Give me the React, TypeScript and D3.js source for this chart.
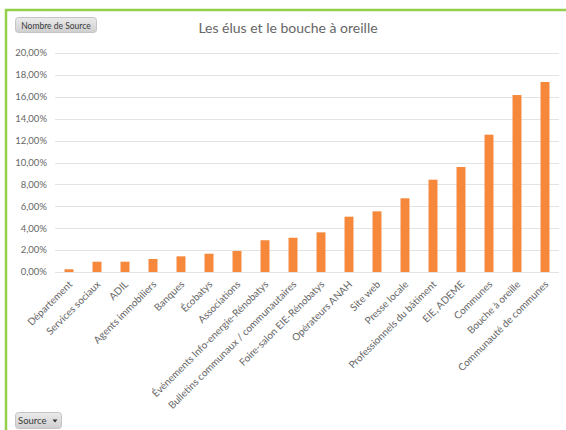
import * as d3 from "d3";
import React from "react";

const categories = [
  "Département",
  "Services sociaux",
  "ADIL",
  "Agents immobiliers",
  "Banques",
  "Écobatys",
  "Associations",
  "Événements Info-energie-Rénobatys",
  "Bulletins communaux / communautaires",
  "Foire-salon EIE-Rénobatys",
  "Opérateurs ANAH",
  "Site web",
  "Presse locale",
  "Professionnels du bâtiment",
  "EIE, ADEME",
  "Communes",
  "Bouche à oreille",
  "Communauté de communes",
];

const shares = [
  0.0025, 0.0094, 0.0094, 0.0119, 0.0143, 0.0167, 0.0192, 0.029, 0.0313,
  0.0362, 0.0505, 0.0554, 0.0673, 0.0843, 0.0959, 0.1254, 0.1616, 0.1735,
];

const yTicks = [0, 0.02, 0.04, 0.06, 0.08, 0.1, 0.12, 0.14, 0.16, 0.18, 0.2];

const chartTitle = "Les élus et le bouche à oreille";

export default function App() {
  const ref = React.useRef<SVGSVGElement>(null);

  React.useEffect(() => {
    if (!ref.current) return;
    const svg = d3.select(ref.current);
    svg.selectAll("*").remove();

    const font = "Lato, 'Open Sans', sans-serif";
    const textColor = "#666666";

    // 外枠（緑の線）
    svg
      .append("rect")
      .attr("x", 0)
      .attr("y", 0)
      .attr("width", 566)
      .attr("height", 430)
      .attr("fill", "#ffffff");
    svg
      .append("line")
      .attr("x1", 5)
      .attr("x2", 566)
      .attr("y1", 10)
      .attr("y2", 10)
      .attr("stroke", "#92cf4a")
      .attr("stroke-width", 2.5);
    svg
      .append("line")
      .attr("x1", 6)
      .attr("x2", 6)
      .attr("y1", 9)
      .attr("y2", 430)
      .attr("stroke", "#92cf4a")
      .attr("stroke-width", 2.5);

    const defs = svg.append("defs");
    const grad = defs
      .append("linearGradient")
      .attr("id", "btn")
      .attr("x1", 0)
      .attr("x2", 0)
      .attr("y1", 0)
      .attr("y2", 1);
    grad.append("stop").attr("offset", "0%").attr("stop-color", "#ebebeb");
    grad.append("stop").attr("offset", "100%").attr("stop-color", "#cfcfcf");

    const x = d3
      .scaleBand()
      .domain(categories)
      .range([55, 559])
      .paddingInner(0.68)
      .paddingOuter(0.34);

    const y = d3.scaleLinear().domain([0, 0.2]).range([272, 53]);

    const fr = d3.formatLocale({
      decimal: ",",
      thousands: " ",
      grouping: [3],
      currency: ["", " €"],
    });
    const pct = fr.format(".2%");

    // グリッド線
    svg
      .append("g")
      .selectAll("line")
      .data(yTicks)
      .enter()
      .append("line")
      .attr("x1", 55)
      .attr("x2", 559)
      .attr("y1", (d) => Math.round(y(d)) + 0.5)
      .attr("y2", (d) => Math.round(y(d)) + 0.5)
      .attr("stroke", "#e3e3e3")
      .attr("stroke-width", 1);

    // Y軸ラベル
    svg
      .append("g")
      .selectAll("text")
      .data(yTicks)
      .enter()
      .append("text")
      .attr("x", 47)
      .attr("y", (d) => y(d))
      .attr("dy", "0.35em")
      .attr("text-anchor", "end")
      .attr("font-family", font)
      .attr("font-size", 9.5)
      .attr("fill", textColor)
      .text((d) => pct(d));

    // 棒
    svg
      .append("g")
      .selectAll("rect")
      .data(shares)
      .enter()
      .append("rect")
      .attr("x", (_, i) => x(categories[i]) || 0)
      .attr("y", (d) => y(d))
      .attr("width", x.bandwidth())
      .attr("height", (d) => y(0) - y(d))
      .attr("fill", "#f5883a");

    // X軸ラベル
    svg
      .append("g")
      .selectAll("text")
      .data(categories)
      .enter()
      .append("text")
      .attr(
        "transform",
        (d) => `translate(${(x(d) || 0) + x.bandwidth() / 2 + 4},${285}) rotate(-45)`
      )
      .attr("text-anchor", "end")
      .attr("font-family", font)
      .attr("font-size", 10)
      .attr("fill", textColor)
      .text((d) => d);

    // タイトル
    svg
      .append("text")
      .attr("x", 288)
      .attr("y", 33)
      .attr("text-anchor", "middle")
      .attr("font-family", font)
      .attr("font-size", 14)
      .attr("fill", textColor)
      .text(chartTitle);

    // ボタン
    const b1 = svg.append("g");
    b1.append("rect")
      .attr("x", 15.5)
      .attr("y", 17.5)
      .attr("width", 81)
      .attr("height", 15)
      .attr("rx", 3)
      .attr("fill", "url(#btn)")
      .attr("stroke", "#c4c4c4");
    b1.append("text")
      .attr("x", 56)
      .attr("y", 28.5)
      .attr("text-anchor", "middle")
      .attr("font-family", font)
      .attr("font-size", 8.5)
      .attr("fill", "#3a3a3a")
      .text("Nombre de Source");

    const b2 = svg.append("g");
    b2.append("rect")
      .attr("x", 15.5)
      .attr("y", 412.5)
      .attr("width", 46)
      .attr("height", 16)
      .attr("rx", 3)
      .attr("fill", "url(#btn)")
      .attr("stroke", "#c4c4c4");
    b2.append("text")
      .attr("x", 18)
      .attr("y", 424)
      .attr("font-family", font)
      .attr("font-size", 9.5)
      .attr("fill", "#3a3a3a")
      .text("Source");
    b2.append("path")
      .attr("d", "M52.5,419.5 L57.5,419.5 L55,422.5 Z")
      .attr("fill", "#333333");
  }, []);

  return (
    <svg
      ref={ref}
      width={566}
      height={430}
      style={{ position: "absolute", left: 0, top: 0, display: "block" }}
    />
  );
}
